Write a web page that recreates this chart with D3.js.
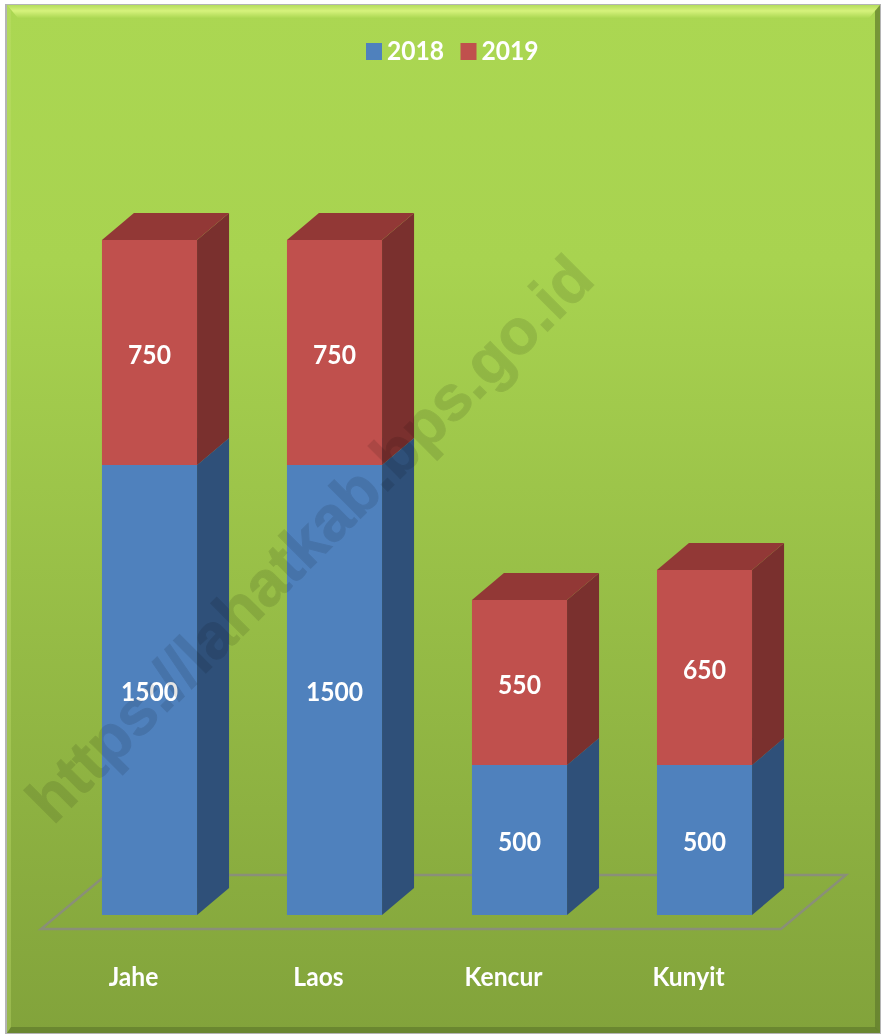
<!DOCTYPE html>
<html>
<head>
<meta charset="utf-8">
<script src="https://cdnjs.cloudflare.com/ajax/libs/d3/7.8.5/d3.min.js"></script>
<style>
html,body{margin:0;padding:0;background:#fff}
svg{display:block}
text{font-family:Lato,"Open Sans",sans-serif;fill:#fff}
</style>
</head>
<body>
<div id="chart"></div>
<script>
// DATA
const categories = ["Jahe","Laos","Kencur","Kunyit"]
const years = ["2018","2019"]
const values2018 = [1500,1500,500,500]
const values2019 = [750,750,550,650]

// -----------------------------
// SETUP
// -----------------------------

const width = 882
const height = 1035
const panel = {x0:7,y0:5,x1:880,y1:1033}
const bevel = 11
const depth = {x:32,y:27}

const frontColor = {"2018":"#4f81bd","2019":"#c0504d"}
const sideColor = {"2018":"#2f5079","2019":"#7a302e"}
const topColor = {"2018":"#3c6596","2019":"#923836"}

const svg = d3.select("#chart")
.append("svg")
.attr("width",width)
.attr("height",height)

const x = d3.scaleBand()
.domain(categories)
.range([57,797])
.paddingInner(0.486)
.paddingOuter(0.243)

const y = d3.scaleLinear()
.domain([0,2250])
.range([915,240])

const line = d3.line()
const defs = svg.append("defs")

const bg = defs.append("linearGradient")
.attr("id","bg")
.attr("x1",0).attr("x2",0).attr("y1",0).attr("y2",1)
bg.append("stop").attr("offset","0%").attr("stop-color","#abd752")
bg.append("stop").attr("offset","25%").attr("stop-color","#a8d350")
bg.append("stop").attr("offset","100%").attr("stop-color","#82a33b")

const topBevel = defs.append("linearGradient")
.attr("id","topBevel")
.attr("x1",0).attr("x2",0).attr("y1",0).attr("y2",1)
topBevel.append("stop").attr("offset","0%").attr("stop-color","#b4dd5c")
topBevel.append("stop").attr("offset","45%").attr("stop-color","#d6f27c")
topBevel.append("stop").attr("offset","100%").attr("stop-color","#acd853")

const soft = defs.append("filter").attr("id","soft")
soft.append("feGaussianBlur").attr("stdDeviation",0.45)

// narrow, tall label like the original font
function label(sel,tx,ty,anchor,txt){

sel.append("text")
.attr("transform",`translate(${tx},${ty}) scale(0.93,1)`)
.attr("text-anchor",anchor)
.attr("font-size",26.5)
.attr("font-weight",700)
.attr("filter","url(#soft)")
.text(txt)

}

// -----------------------------
// PANEL
// -----------------------------

svg.append("rect")
.attr("x",panel.x0-2)
.attr("y",panel.y0-1)
.attr("width",panel.x1-panel.x0+3)
.attr("height",panel.y1-panel.y0+2)
.attr("fill","#b4b4b4")

svg.append("rect")
.attr("x",panel.x0)
.attr("y",panel.y0)
.attr("width",panel.x1-panel.x0)
.attr("height",panel.y1-panel.y0)
.attr("fill","url(#bg)")

const {x0,y0,x1,y1} = panel

svg.append("path")
.attr("d",line([[x0,y0],[x1,y0],[x1-bevel,y0+bevel+2],[x0+bevel,y0+bevel+2]])+"Z")
.attr("fill","url(#topBevel)")

svg.append("path")
.attr("d",line([[x1,y0],[x1,y1],[x1-5,y1-5],[x1-5,y0+6]])+"Z")
.attr("fill","#5f7a2c")
.attr("opacity",0.7)

svg.append("path")
.attr("d",line([[x0,y1],[x1,y1],[x1-5,y1-6],[x0+4,y1-6]])+"Z")
.attr("fill","#5f7a2c")
.attr("opacity",0.7)

svg.append("path")
.attr("d",line([[x0,y0],[x0,y1],[x0+4,y1-6],[x0+4,y0+6]])+"Z")
.attr("fill","#c4e070")
.attr("opacity",0.35)

// -----------------------------
// FLOOR
// -----------------------------

const floorFront = y(0)+14
const floorBack = floorFront-54
const floorLeft = x.range()[0]-16
const floorRight = x.range()[1]-16

svg.append("path")
.attr("d",line([
[floorLeft,floorFront],
[floorRight,floorFront],
[floorRight+65,floorBack],
[floorLeft+65,floorBack]
])+"Z")
.attr("fill","none")
.attr("stroke","#8a8f78")
.attr("stroke-width",2.4)

// -----------------------------
// BARS
// -----------------------------

function drawBox(bx,base,top,year){

const w = x.bandwidth()

svg.append("rect")
.attr("x",bx)
.attr("y",y(top))
.attr("width",w)
.attr("height",y(base)-y(top))
.attr("fill",frontColor[year])

svg.append("path")
.attr("d",line([
[bx+w,y(base)],
[bx+w+depth.x,y(base)-depth.y],
[bx+w+depth.x,y(top)-depth.y],
[bx+w,y(top)]
])+"Z")
.attr("fill",sideColor[year])

svg.append("path")
.attr("d",line([
[bx,y(top)],
[bx+w,y(top)],
[bx+w+depth.x,y(top)-depth.y],
[bx+depth.x,y(top)-depth.y]
])+"Z")
.attr("fill",topColor[year])

}

categories.forEach((c,i)=>{

const v18 = values2018[i]
const v19 = values2019[i]
const bx = x(c)

drawBox(bx,0,v18,"2018")
drawBox(bx,v18,v18+v19,"2019")

const cx = bx+x.bandwidth()/2

label(svg,cx,(y(0)+y(v18))/2+11,"middle",v18)
label(svg,cx,(y(v18)+y(v18+v19))/2+11,"middle",v19)
label(svg,cx-16,986,"middle",c)

})

// -----------------------------
// LEGEND
// -----------------------------

const legend = svg.append("g")

years.forEach((yr,i)=>{

const lx = 366+i*94.5

legend.append("rect")
.attr("x",lx)
.attr("y",43)
.attr("width",16)
.attr("height",17)
.attr("fill",frontColor[yr])

label(legend,lx+21,60,"start",yr)

})

// -----------------------------
// WATERMARK
// -----------------------------

svg.append("text")
.attr("transform","translate(53,826) rotate(-45)")
.attr("font-size",63.5)
.attr("font-weight",700)
.style("font-family","'Liberation Sans',Arial,sans-serif")
.style("fill","#000")
.style("stroke","#000")
.style("stroke-width",1)
.attr("opacity",0.1)
.text("https://lahatkab.bps.go.id")

</script>
</body>
</html>
